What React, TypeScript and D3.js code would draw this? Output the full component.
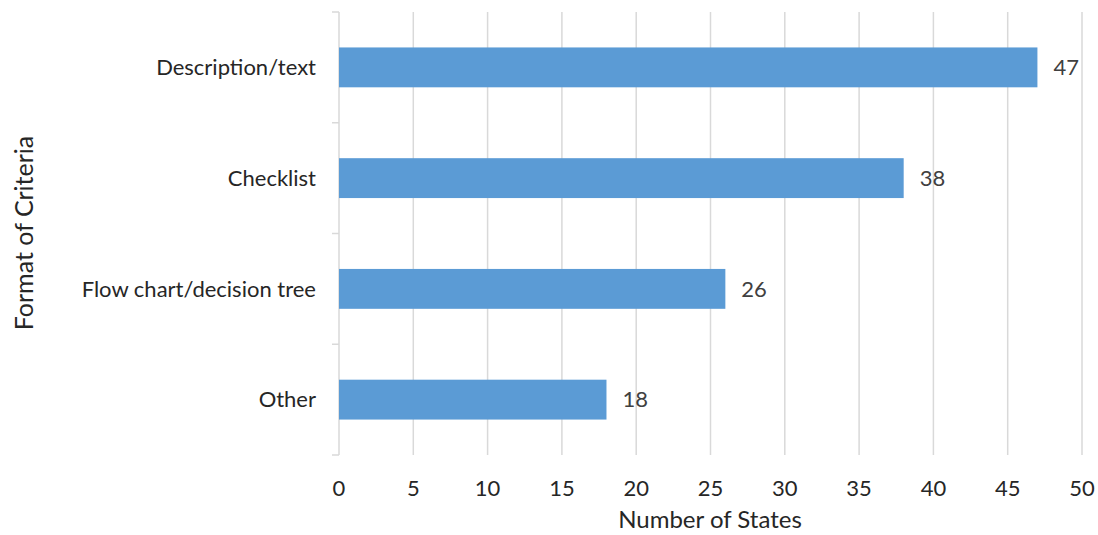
import { useEffect, useRef } from "react";
import * as d3 from "d3";

const categories = ["Description/text", "Checklist", "Flow chart/decision tree", "Other"];
const values = [47, 38, 26, 18];
const xTicks = [0, 5, 10, 15, 20, 25, 30, 35, 40, 45, 50];

const WIDTH = 1098;
const HEIGHT = 535;
const FONT = "Lato, 'Open Sans', sans-serif";

function App() {
  const svgRef = useRef<SVGSVGElement | null>(null);

  useEffect(() => {
    if (!svgRef.current) return;
    const svg = d3.select(svgRef.current);
    svg.selectAll("*").remove();

    const x = d3.scaleLinear().domain([0, 50]).range([339, 1082]);
    const y = d3
      .scaleBand()
      .domain(categories)
      .range([12, 455])
      .paddingInner(0.64)
      .paddingOuter(0.32);
    const step = y.step();

    // vertical gridlines
    svg
      .selectAll(".grid")
      .data(xTicks.slice(1))
      .enter()
      .append("line")
      .attr("x1", (d) => x(d))
      .attr("x2", (d) => x(d))
      .attr("y1", 12)
      .attr("y2", 455)
      .attr("stroke", "#d9d9d9")
      .attr("stroke-width", 1.5);

    // y axis line + category separator ticks
    svg
      .append("line")
      .attr("x1", x(0))
      .attr("x2", x(0))
      .attr("y1", 12)
      .attr("y2", 455)
      .attr("stroke", "#d9d9d9")
      .attr("stroke-width", 1.5);
    svg
      .selectAll(".ytick")
      .data(d3.range(categories.length + 1))
      .enter()
      .append("line")
      .attr("x1", x(0) - 7)
      .attr("x2", x(0))
      .attr("y1", (i) => 12 + i * step)
      .attr("y2", (i) => 12 + i * step)
      .attr("stroke", "#d9d9d9")
      .attr("stroke-width", 1.5);

    // bars
    svg
      .selectAll(".bar")
      .data(categories)
      .enter()
      .append("rect")
      .attr("x", x(0))
      .attr("y", (d) => y(d)!)
      .attr("width", (_, i) => x(values[i]) - x(0))
      .attr("height", y.bandwidth())
      .attr("fill", "#5b9bd5");

    // value labels
    svg
      .selectAll(".val")
      .data(categories)
      .enter()
      .append("text")
      .attr("x", (_, i) => x(values[i]) + 16)
      .attr("y", (d) => y(d)! + y.bandwidth() / 2)
      .attr("dy", "0.35em")
      .text((_, i) => values[i])
      .style("font-family", FONT)
      .style("font-size", "22px")
      .attr("fill", "#404040");

    // category labels
    svg
      .selectAll(".cat")
      .data(categories)
      .enter()
      .append("text")
      .attr("x", 316)
      .attr("y", (d) => y(d)! + y.bandwidth() / 2)
      .attr("dy", "0.35em")
      .attr("text-anchor", "end")
      .text((d) => d)
      .style("font-family", FONT)
      .style("font-size", "22px")
      .attr("fill", "#262626");

    // x tick labels
    svg
      .selectAll(".xt")
      .data(xTicks)
      .enter()
      .append("text")
      .attr("x", (d) => x(d))
      .attr("y", 496)
      .attr("text-anchor", "middle")
      .text((d) => d)
      .style("font-family", FONT)
      .style("font-size", "22px")
      .attr("fill", "#262626");

    // axis titles
    svg
      .append("text")
      .attr("x", 710)
      .attr("y", 528)
      .attr("text-anchor", "middle")
      .text("Number of States")
      .style("font-family", FONT)
      .style("font-size", "24px")
      .attr("fill", "#262626");
    svg
      .append("text")
      .attr("transform", `translate(33,233) rotate(-90)`)
      .attr("text-anchor", "middle")
      .text("Format of Criteria")
      .style("font-family", FONT)
      .style("font-size", "25px")
      .attr("fill", "#262626");
  }, []);

  return (
    <svg
      ref={svgRef}
      width={WIDTH}
      height={HEIGHT}
      style={{ position: "absolute", left: 0, top: 0, background: "#fff" }}
    ></svg>
  );
}

export default App;
